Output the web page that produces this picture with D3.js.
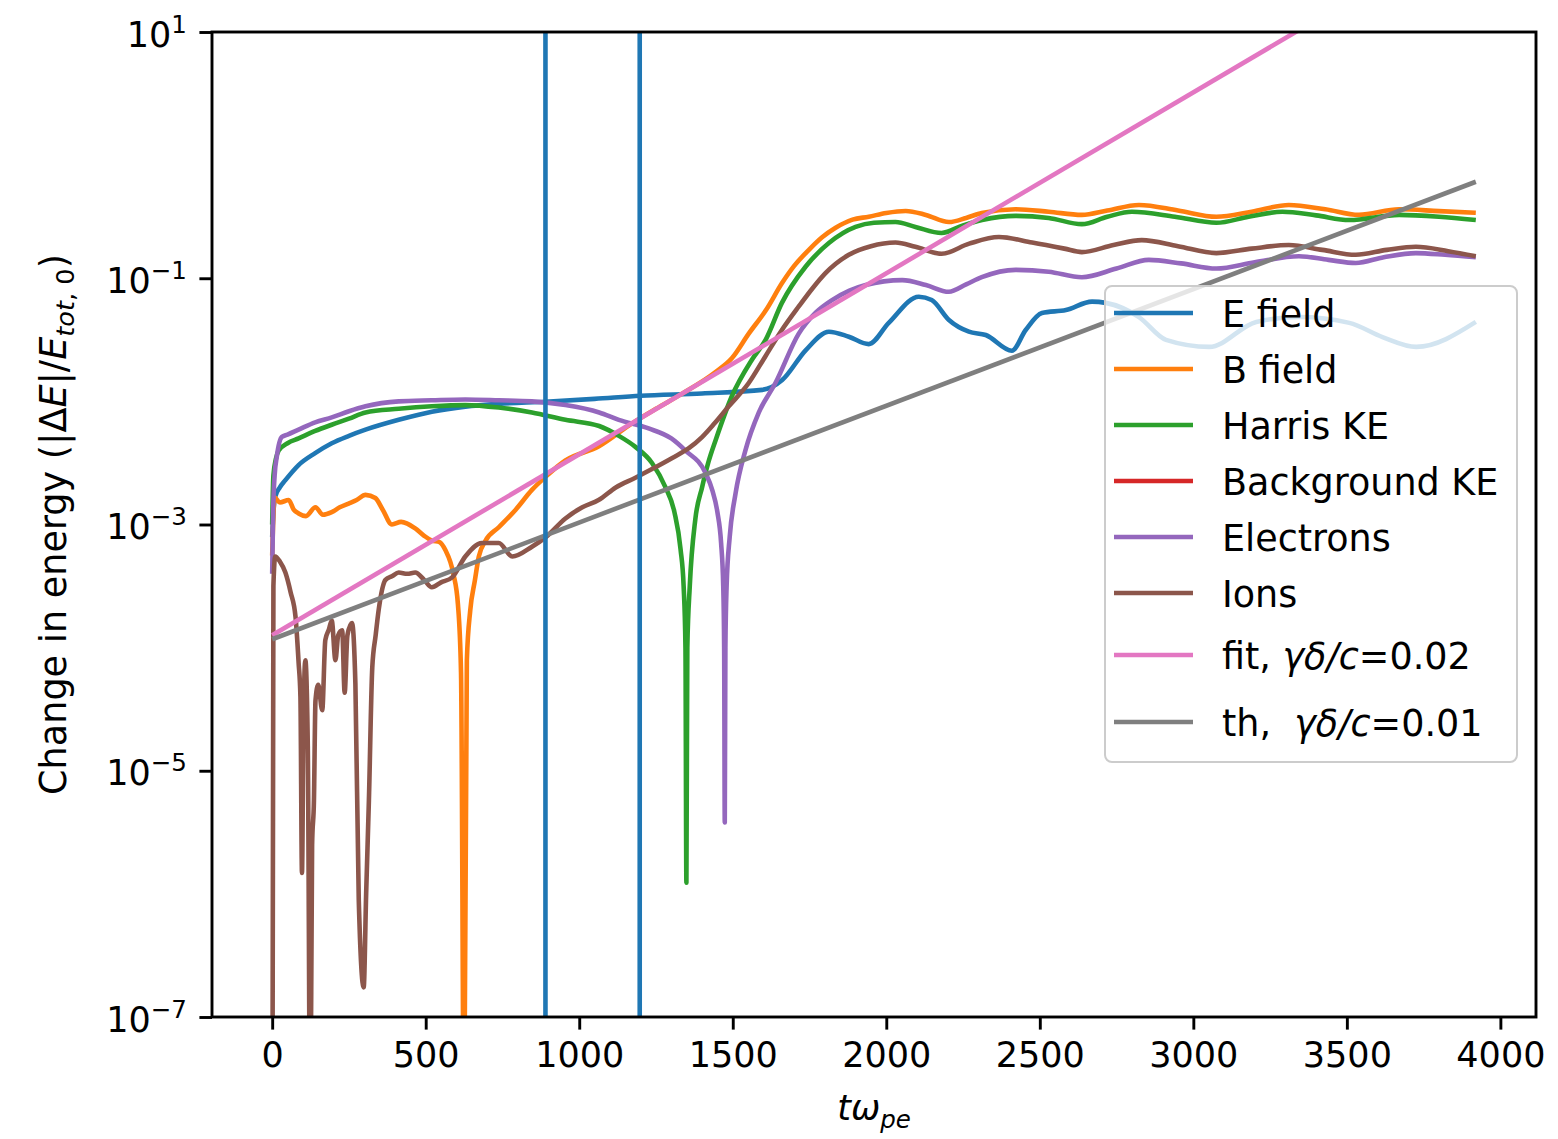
<!DOCTYPE html>
<html><head><meta charset="utf-8">
<script src="https://cdn.jsdelivr.net/npm/d3@7"></script>
<style>body{margin:0;background:#fff} text{font-family:"DejaVu Sans",sans-serif;fill:#000}</style>
</head><body><svg id="c" width="1558" height="1139"></svg>
<script>
// ---- data: [time t*omega_pe, |dE|/E_tot,0] ----
const eField=[[0,7.9e-4],[4,1.26e-3],[10,1.68e-3],[25,2.0e-3],[43,2.29e-3],[86,3.04e-3],[140,3.8e-3],[194,4.57e-3],[250,5.25e-3],[304,5.89e-3],[412,7.08e-3],[520,8.24e-3],[629,9.06e-3],[738,9.55e-3],[890,9.93e-3],[1050,1.047e-2],[1200,1.11e-2],[1400,1.16e-2],[1596,1.24e-2],[1661,1.49e-2],[1738,2.61e-2],[1813,3.68e-2],[1878,3.35e-2],[1943,2.92e-2],[2008,4.34e-2],[2106,7.08e-2],[2148,6.65e-2],[2204,4.58e-2],[2269,3.68e-2],[2324,3.46e-2],[2409,2.58e-2],[2454,3.80e-2],[2507,5.22e-2],[2585,5.52e-2],[2670,6.46e-2],[2715,6.31e-2],[2823,4.84e-2],[2911,3.16e-2],[3052,2.77e-2],[3205,4.42e-2],[3345,4.84e-2],[3508,4.34e-2],[3616,3.33e-2],[3726,2.77e-2],[3920,4.42e-2]];
const bField=[[0,5.6e-4],[8,1.66e-3],[25,1.51e-3],[54,1.58e-3],[70,1.32e-3],[86,1.23e-3],[110,1.17e-3],[141,1.38e-3],[165,1.20e-3],[194,1.26e-3],[220,1.38e-3],[249,1.48e-3],[275,1.58e-3],[304,1.74e-3],[336,1.64e-3],[360,1.32e-3],[390,1.0e-3],[420,1.05e-3],[466,9.3e-4],[495,8.1e-4],[520,7.4e-4],[545,7.2e-4],[564,6.2e-4],[590,3.98e-4],[605,2.24e-4],[615,6.3e-5],[625,1e-8],[634,7.9e-5],[645,2.0e-4],[660,3.5e-4],[673,5.5e-4],[695,7.4e-4],[738,9.5e-4],[793,1.32e-3],[846,1.91e-3],[891,2.45e-3],[955,3.31e-3],[1063,4.3e-3],[1171,6.6e-3],[1250,8.7e-3],[1334,1.15e-2],[1445,1.74e-2],[1497,2.24e-2],[1552,3.55e-2],[1610,5.6e-2],[1660,9.1e-2],[1700,0.126],[1748,0.170],[1790,0.214],[1835,0.257],[1890,0.299],[1943,0.316],[2000,0.339],[2063,0.352],[2129,0.327],[2204,0.286],[2260,0.309],[2311,0.339],[2421,0.363],[2529,0.347],[2637,0.327],[2720,0.355],[2823,0.394],[2950,0.355],[3075,0.316],[3190,0.347],[3311,0.394],[3430,0.363],[3539,0.327],[3670,0.363],[3800,0.351],[3920,0.340]];
const harrisKE=[[0,1.0e-3],[4,2.5e-3],[12,3.4e-3],[21,3.98e-3],[50,4.57e-3],[86,5.0e-3],[140,5.75e-3],[194,6.46e-3],[250,7.24e-3],[304,8.13e-3],[412,8.7e-3],[520,9.12e-3],[629,9.33e-3],[738,8.91e-3],[846,8.13e-3],[955,7.08e-3],[1065,6.31e-3],[1129,5.25e-3],[1183,4.27e-3],[1237,3.16e-3],[1281,2.0e-3],[1310,1.26e-3],[1330,6.3e-4],[1340,3.16e-4],[1346,1.0e-4],[1349,1.23e-6],[1352,1.0e-4],[1360,3.16e-4],[1378,1.10e-3],[1400,2.0e-3],[1420,3.16e-3],[1445,4.9e-3],[1497,1.10e-2],[1563,2.19e-2],[1607,3.16e-2],[1660,6.31e-2],[1737,0.124],[1813,0.193],[1900,0.261],[1960,0.282],[2030,0.286],[2095,0.261],[2180,0.233],[2250,0.269],[2312,0.297],[2421,0.321],[2529,0.309],[2637,0.275],[2720,0.316],[2800,0.347],[2940,0.316],[3075,0.282],[3180,0.316],[3290,0.347],[3400,0.324],[3508,0.297],[3670,0.327],[3800,0.316],[3920,0.297]];
const backgroundKE=[];
const electrons=[[0,3.98e-4],[3,1.26e-3],[8,2.51e-3],[15,3.55e-3],[31,5.13e-3],[50,5.37e-3],[86,5.89e-3],[140,6.76e-3],[194,7.41e-3],[250,8.32e-3],[304,9.12e-3],[412,1.0e-2],[520,1.02e-2],[629,1.035e-2],[738,1.02e-2],[846,1.0e-2],[955,9.33e-3],[1065,8.13e-3],[1129,7.08e-3],[1226,6.03e-3],[1300,5.0e-3],[1346,3.98e-3],[1411,2.63e-3],[1433,1.91e-3],[1450,1.26e-3],[1462,7.08e-4],[1469,3.16e-4],[1472,1.0e-4],[1474,3.8e-6],[1476,1.0e-4],[1480,3.16e-4],[1490,7.9e-4],[1509,1.78e-3],[1541,3.98e-3],[1585,8.13e-3],[1639,1.41e-2],[1715,3.55e-2],[1770,5.25e-2],[1822,6.61e-2],[1880,7.94e-2],[1933,8.81e-2],[2052,9.66e-2],[2129,8.81e-2],[2204,7.76e-2],[2260,8.91e-2],[2311,0.102],[2421,0.117],[2529,0.113],[2637,0.102],[2750,0.120],[2855,0.141],[2960,0.132],[3075,0.120],[3200,0.135],[3344,0.151],[3440,0.141],[3529,0.133],[3620,0.148],[3725,0.160],[3820,0.155],[3920,0.148]];
const ions=[[0,1e-9],[4,3.16e-4],[10,5.5e-4],[25,5.0e-4],[43,4.07e-4],[60,2.82e-4],[76,1.78e-4],[86,7.6e-5],[92,4.0e-5],[97,1.48e-6],[102,2.5e-5],[108,7.9e-5],[116,1.58e-5],[124,1e-8],[130,2.5e-6],[136,5.75e-6],[141,3.7e-5],[150,5.0e-5],[163,3.1e-5],[173,1.15e-4],[185,1.41e-4],[194,1.66e-4],[206,7.9e-5],[215,1.26e-4],[228,1.38e-4],[236,4.3e-5],[245,1.26e-4],[260,1.58e-4],[271,5.1e-5],[282,8.9e-7],[298,1.74e-7],[306,1.0e-6],[315,5.75e-6],[326,6.9e-5],[337,1.26e-4],[347,2.04e-4],[369,3.55e-4],[390,3.8e-4],[412,4.07e-4],[440,3.98e-4],[466,4.07e-4],[495,3.55e-4],[520,3.09e-4],[550,3.39e-4],[586,3.72e-4],[629,5.5e-4],[683,7.08e-4],[738,7.08e-4],[782,5.5e-4],[846,6.6e-4],[891,7.9e-4],[955,1.12e-3],[1010,1.38e-3],[1063,1.58e-3],[1119,2.0e-3],[1183,2.4e-3],[1237,2.82e-3],[1303,3.47e-3],[1357,4.17e-3],[1400,5.13e-3],[1440,6.6e-3],[1487,9.12e-3],[1552,1.41e-2],[1607,2.34e-2],[1660,3.8e-2],[1715,5.9e-2],[1760,8.3e-2],[1802,0.110],[1878,0.155],[1950,0.182],[2030,0.195],[2095,0.180],[2180,0.158],[2270,0.191],[2367,0.216],[2475,0.195],[2580,0.174],[2637,0.163],[2740,0.186],[2832,0.204],[2950,0.182],[3075,0.160],[3190,0.174],[3311,0.186],[3420,0.170],[3529,0.155],[3630,0.170],[3725,0.180],[3830,0.166],[3920,0.151]];
const fitLine=[[0,1.26e-4],[3920,72.8]];
const thLine=[[0,1.17e-4],[3920,0.608]];
const vLines=[890,1197];
const xTicks=[0,500,1000,1500,2000,2500,3000,3500,4000];
const yTickExps=[1,-1,-3,-5,-7];

const series=[
 {name:"E field",data:eField,color:"#1f77b4"},
 {name:"B field",data:bField,color:"#ff7f0e"},
 {name:"Harris KE",data:harrisKE,color:"#2ca02c"},
 {name:"Background KE",data:backgroundKE,color:"#d62728"},
 {name:"Electrons",data:electrons,color:"#9467bd"},
 {name:"Ions",data:ions,color:"#8c564b"},
 {name:"fit",data:fitLine,color:"#e377c2",math:["fit, ","γδ/c","=0.02"]},
 {name:"th",data:thLine,color:"#7f7f7f",math:["th,\u00a0 ","γδ/c","=0.01"]}
];

const W=1558,H=1139;
const m={l:212,r:1536,t:32,b:1017};
const FS=35, LW=4.6, SW=2.9, TL=12.6, TP=12.6;
const x=d3.scaleLinear().domain([-196,4116]).range([m.l,m.r]);
const y=d3.scaleLog().domain([1e-7,10]).range([m.b,m.t]);
const svg=d3.select('#c');
svg.append('rect').attr('width',W).attr('height',H).attr('fill','#fff');
svg.append('defs').append('clipPath').attr('id','clip').append('rect')
  .attr('x',m.l).attr('y',m.t).attr('width',m.r-m.l).attr('height',m.b-m.t);
const g=svg.append('g').attr('clip-path','url(#clip)');
const line=d3.line().x(d=>x(d[0])).y(d=>y(d[1])).curve(d3.curveMonotoneX);
series.forEach(s=>{
  if(!s.data.length) return;
  g.append('path').attr('d',line(s.data)).attr('fill','none')
   .attr('stroke',s.color).attr('stroke-width',LW)
   .attr('stroke-linejoin','round').attr('stroke-linecap','butt');
});
g.selectAll('line.v').data(vLines).join('line').attr('class','v')
  .attr('x1',d=>x(d)).attr('x2',d=>x(d)).attr('y1',m.t).attr('y2',m.b)
  .attr('stroke','#1f77b4').attr('stroke-width',LW);

// x axis
const xa=svg.append('g').attr('transform',`translate(0,${m.b})`)
  .call(d3.axisBottom(x).tickValues(xTicks).tickFormat(d3.format('d')).tickSize(TL).tickPadding(TP).tickSizeOuter(0));
xa.select('.domain').remove();
xa.selectAll('line').attr('stroke','#000').attr('stroke-width',SW);
xa.selectAll('text').attr('font-size',FS).attr('font-family','DejaVu Sans').attr('fill','#000');

// y axis
const ya=svg.append('g').attr('transform',`translate(${m.l},0)`)
  .call(d3.axisLeft(y).tickValues(yTickExps.map(e=>Math.pow(10,e))).tickFormat(()=>'' ).tickSize(TL).tickPadding(TP).tickSizeOuter(0));
ya.select('.domain').remove();
ya.selectAll('line').attr('stroke','#000').attr('stroke-width',SW);
ya.selectAll('.tick text').each(function(d){
  const e=Math.round(Math.log10(d));
  const t=d3.select(this).attr('font-size',FS).attr('font-family','DejaVu Sans').attr('fill','#000')
    .attr('dy',null).attr('y',14).attr('x',-(TL+TP)).attr('text-anchor','end');
  t.text('10');
  t.append('tspan').attr('font-size',FS*0.7).attr('dy',-14).text((e<0?'\u2212':'')+Math.abs(e));
});

// spines
svg.append('rect').attr('x',m.l).attr('y',m.t).attr('width',m.r-m.l).attr('height',m.b-m.t)
  .attr('fill','none').attr('stroke','#000').attr('stroke-width',SW);

// x label
const xl=svg.append('text').attr('x',(m.l+m.r)/2).attr('y',1120).attr('text-anchor','middle').attr('font-size',FS);
xl.append('tspan').attr('font-style','italic').text('tω');
xl.append('tspan').attr('font-style','italic').attr('font-size',FS*0.7).attr('dy',8).text('pe');

// y label
const YFS=36.6;
const yl=svg.append('text').attr('transform',`translate(66,${(m.t+m.b)/2}) rotate(-90)`).attr('text-anchor','middle').attr('font-size',YFS);
yl.append('tspan').text('Change in energy (|Δ');
yl.append('tspan').attr('font-style','italic').text('E');
yl.append('tspan').text('|/');
yl.append('tspan').attr('font-style','italic').text('E');
yl.append('tspan').attr('font-style','italic').attr('font-size',YFS*0.7).attr('dy',8).text('tot');
yl.append('tspan').attr('font-size',YFS*0.7).text(',\u00a00');
yl.append('tspan').attr('dy',-8).text(')');

// legend
const LFS=36.5;
const leg=svg.append('g');
leg.append('rect').attr('x',1105).attr('y',286).attr('width',412).attr('height',476).attr('rx',7)
  .attr('fill','#fff').attr('fill-opacity',0.8).attr('stroke','#cccccc').attr('stroke-width',2);
const rowY=[313,369,425,481,537,593,655,722];
series.forEach((s,i)=>{
  leg.append('line').attr('x1',1114).attr('x2',1193).attr('y1',rowY[i]).attr('y2',rowY[i])
    .attr('stroke',s.color).attr('stroke-width',LW);
  const t=leg.append('text').attr('x',1222).attr('y',rowY[i]+13.5).attr('font-size',LFS);
  if(s.math){
    t.append('tspan').text(s.math[0]);
    t.append('tspan').attr('font-style','italic').text(s.math[1]);
    t.append('tspan').text(s.math[2]);
  } else t.text(s.name);
});
</script></body></html>
